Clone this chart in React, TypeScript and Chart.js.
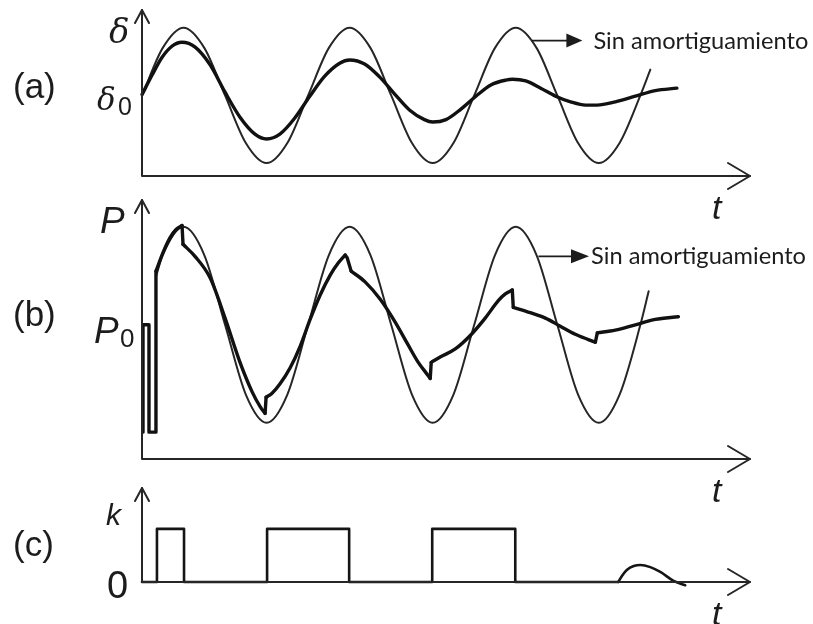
import React, { useEffect, useRef } from "react";
import { Chart, registerables } from "chart.js";

Chart.register(...registerables);

const W = 813;
const T_MAX = 3.66;
const NOTE = "Sin amortiguamiento";

// ---- Panel (a): rotor angle delta ----
const thinA_t = [0, 0.125, 0.25, 0.375, 0.5, 0.625, 0.75, 0.875, 1, 1.125, 1.25, 1.375, 1.5, 1.625, 1.75, 1.875, 2, 2.125, 2.25, 2.375, 2.5, 2.625, 2.75, 2.875, 3, 3.06];
const thinA_v = [1, 1.59, 1.84, 1.59, 1, 0.41, 0.16, 0.41, 1, 1.59, 1.84, 1.59, 1, 0.41, 0.16, 0.41, 1, 1.59, 1.84, 1.59, 1, 0.41, 0.16, 0.41, 1, 1.32];
const thickA_t = [0, 0.06, 0.12, 0.18, 0.24, 0.32, 0.41, 0.5, 0.59, 0.68, 0.75, 0.83, 0.92, 1.01, 1.1, 1.19, 1.25, 1.34, 1.43, 1.52, 1.61, 1.7, 1.75, 1.83, 1.92, 2.01, 2.1, 2.19, 2.23, 2.31, 2.4, 2.49, 2.58, 2.67, 2.74, 2.85, 2.97, 3.09, 3.22];
const thickA_v = [1.01, 1.25, 1.47, 1.61, 1.66, 1.6, 1.38, 1.04, 0.73, 0.52, 0.46, 0.52, 0.72, 0.99, 1.24, 1.4, 1.44, 1.39, 1.23, 1.02, 0.82, 0.7, 0.67, 0.7, 0.83, 0.99, 1.13, 1.19, 1.2, 1.18, 1.09, 0.99, 0.92, 0.88, 0.88, 0.92, 0.99, 1.06, 1.09];

// ---- Panel (b): electrical power P ----
const thinB_t = [0.084, 0.125, 0.25, 0.375, 0.5, 0.625, 0.75, 0.875, 1, 1.125, 1.25, 1.375, 1.5, 1.625, 1.75, 1.875, 2, 2.125, 2.25, 2.375, 2.5, 2.625, 2.75, 2.875, 3, 3.05];
const thinB_v = [1.36, 1.52, 1.73, 1.52, 1, 0.48, 0.27, 0.48, 1, 1.52, 1.73, 1.52, 1, 0.48, 0.27, 0.48, 1, 1.52, 1.73, 1.52, 1, 0.48, 0.27, 0.48, 1, 1.25];
const faultB_t = [0.006, 0.006, 0.042, 0.042, 0.084, 0.084];
const faultB_v = [0.2, 1.0, 1.0, 0.2, 0.2, 1.4];
const thickB_t = [0.084, 0.127, 0.169, 0.205, 0.241, 0.247, 0.319, 0.41, 0.5, 0.59, 0.663, 0.711, 0.741, 0.747, 0.783, 0.831, 0.892, 0.952, 1.012, 1.072, 1.133, 1.181, 1.223, 1.235, 1.259, 1.343, 1.434, 1.524, 1.602, 1.663, 1.711, 1.735, 1.741, 1.795, 1.886, 1.976, 2.066, 2.145, 2.187, 2.229, 2.235, 2.337, 2.428, 2.518, 2.608, 2.687, 2.729, 2.741, 2.849, 2.97, 3.09, 3.229];
const thickB_v = [1.4, 1.54, 1.65, 1.71, 1.74, 1.6, 1.51, 1.35, 1.05, 0.72, 0.5, 0.39, 0.34, 0.46, 0.49, 0.56, 0.68, 0.84, 1.04, 1.22, 1.37, 1.46, 1.52, 1.5, 1.4, 1.32, 1.19, 1.02, 0.85, 0.72, 0.64, 0.6, 0.72, 0.76, 0.82, 0.92, 1.05, 1.18, 1.23, 1.26, 1.13, 1.09, 1.05, 0.99, 0.93, 0.89, 0.87, 0.94, 0.96, 1.0, 1.04, 1.06];
// smooth runs of the damped curve [first index, last index]; the gaps between them are switching steps
const thickB_runs = [[0, 4], [5, 12], [13, 22], [24, 31], [32, 39], [40, 46], [47, 51]];

// ---- Panel (c): switching signal k ----
const stepC_t = [0, 0.09, 0.09, 0.253, 0.253, 0.753, 0.753, 1.247, 1.247, 1.747, 1.747, 2.247, 2.247, 2.867];
const stepC_v = [0, 0, 1, 1, 0, 0, 1, 1, 0, 0, 1, 1, 0, 0];
const humpC_t = [2.867, 2.89, 2.92, 2.96, 3.0, 3.06, 3.12, 3.2, 3.27];
const humpC_v = [0, 0.12, 0.23, 0.3, 0.32, 0.28, 0.19, 0.02, -0.06];

// annotation anchors (data coordinates on the undamped curve)
const annotA = { t: 2.35, v: 1.68 };
const annotB = { t: 2.39, v: 1.51 };

const INK = "#1c1c1c";

type Pt = { x: number; y: number };
const zip = (t: number[], v: number[]): Pt[] => t.map((x, i) => ({ x, y: v[i] }));

interface Series { t: number[]; v: number[]; width: number; color: string; smooth: boolean; order: number }
type Px = (v: number) => number;
interface PanelSpec {
  top: number; height: number; padTop: number; padBottom: number; yMax: number;
  series: Series[];
  draw: (ctx: CanvasRenderingContext2D, px: Px, py: Px, x0: number, y0: number, y1: number) => void;
}

function txt(ctx: CanvasRenderingContext2D, s: string, x: number, y: number, font: string) {
  ctx.font = font;
  ctx.fillStyle = INK;
  ctx.textBaseline = "alphabetic";
  ctx.textAlign = "left";
  ctx.fillText(s, x, y);
}

function note(ctx: CanvasRenderingContext2D, x: number, y: number, len: number, head: number, gap: number) {
  ctx.strokeStyle = INK;
  ctx.lineWidth = 1.6;
  ctx.beginPath();
  ctx.moveTo(x, y);
  ctx.lineTo(x + len - head + 1, y);
  ctx.stroke();
  ctx.fillStyle = INK;
  ctx.beginPath();
  ctx.moveTo(x + len, y);
  ctx.lineTo(x + len - head, y - 7);
  ctx.lineTo(x + len - head, y + 7);
  ctx.closePath();
  ctx.fill();
  ctx.font = "22px Lato";
  const w = ctx.measureText(NOTE).width;
  const size = (22 * 215) / w;
  txt(ctx, NOTE, x + len + gap, y + 8, `${size.toFixed(2)}px Lato`);
}

const thin = (t: number[], v: number[]): Series => ({ t, v, width: 2, color: "#262626", smooth: true, order: 2 });
const thick = (t: number[], v: number[], smooth: boolean): Series => ({ t, v, width: 3.4, color: "#111111", smooth, order: 1 });

function runSeries(t: number[], v: number[], runs: number[][]): Series[] {
  const out: Series[] = [];
  runs.forEach(([a, b], i) => {
    out.push(thick(t.slice(a, b + 1), v.slice(a, b + 1), true));
    if (i < runs.length - 1) {
      const n = runs[i + 1][0];
      out.push(thick(t.slice(b, n + 1), v.slice(b, n + 1), false));
    }
  });
  return out;
}

const panels: PanelSpec[] = [
  {
    top: 0, height: 230, padTop: 10, padBottom: 54, yMax: 2.06,
    series: [thick(thickA_t, thickA_v, true), thin(thinA_t, thinA_v)],
    draw: (ctx, px, py, x0, y0, y1) => {
      txt(ctx, "(a)", 13, py(1) + 3, '35px "Liberation Sans"');
      txt(ctx, "δ", x0 - 33, y1 + 33, 'italic 34px "DejaVu Serif"');
      txt(ctx, "δ", x0 - 45, py(1) + 15, 'italic 31px "DejaVu Serif"');
      txt(ctx, "0", x0 - 24, py(1) + 20, '25px "Liberation Sans"');
      note(ctx, px(annotA.t), py(annotA.v), 50, 16, 11);
    },
  },
  {
    top: 190, height: 330, padTop: 10, padBottom: 61, yMax: 1.93,
    series: [
      thick(faultB_t, faultB_v, false),
      ...runSeries(thickB_t, thickB_v, thickB_runs),
      thin(thinB_t, thinB_v),
    ],
    draw: (ctx, px, py, x0, y0, y1) => {
      txt(ctx, "(b)", 13, py(1) + 1, '35px "Liberation Sans"');
      txt(ctx, "P", x0 - 42, y1 + 33, 'italic 37px "Liberation Sans"');
      txt(ctx, "P", x0 - 48, py(1) + 18, 'italic 37px "Liberation Sans"');
      txt(ctx, "0", x0 - 22, py(1) + 22, '26px "Liberation Sans"');
      note(ctx, px(annotB.t), py(annotB.v), 50, 18, 2);
    },
  },
  {
    top: 470, height: 154, padTop: 18, padBottom: 42, yMax: 1.77,
    series: [
      { t: stepC_t, v: stepC_v, width: 2.6, color: "#151515", smooth: false, order: 1 },
      { t: humpC_t, v: humpC_v, width: 2.6, color: "#151515", smooth: true, order: 1 },
    ],
    draw: (ctx, px, py, x0, y0, y1) => {
      txt(ctx, "(c)", 13, y0 - 26, '35px "Liberation Sans"');
      txt(ctx, "k", x0 - 36, py(1) - 4, 'italic 30px "Liberation Sans"');
      txt(ctx, "0", x0 - 35, y0 + 16, '38px "Liberation Sans"');
    },
  },
];

function makePlugin(spec: PanelSpec) {
  return {
    id: "axesArrows",
    afterDatasetsDraw(chart: any) {
      const ctx: CanvasRenderingContext2D = chart.ctx;
      const xs = chart.scales.x;
      const ys = chart.scales.y;
      const px: Px = (v) => xs.getPixelForValue(v);
      const py: Px = (v) => ys.getPixelForValue(v);
      const x0 = px(0), x1 = px(T_MAX);
      const y0 = py(0), y1 = py(spec.yMax);
      ctx.save();
      ctx.strokeStyle = "#262626";
      ctx.lineWidth = 2;
      ctx.lineCap = "round";
      ctx.lineJoin = "round";
      ctx.beginPath();
      ctx.moveTo(x0, y0);
      ctx.lineTo(x1, y0);
      ctx.moveTo(x0, y0);
      ctx.lineTo(x0, y1);
      ctx.stroke();
      ctx.beginPath();
      ctx.moveTo(x1 - 22, y0 - 13);
      ctx.lineTo(x1, y0);
      ctx.lineTo(x1 - 22, y0 + 13);
      ctx.stroke();
      ctx.beginPath();
      ctx.moveTo(x0 - 7, y1 + 13);
      ctx.lineTo(x0, y1);
      ctx.lineTo(x0 + 7, y1 + 13);
      ctx.stroke();
      txt(ctx, "t", x1 - 38, y0 + 43, 'italic 34px "Liberation Sans"');
      spec.draw(ctx, px, py, x0, y0, y1);
      ctx.restore();
    },
  };
}

function Panel({ spec }: { spec: PanelSpec }) {
  const ref = useRef<HTMLCanvasElement>(null);
  useEffect(() => {
    const canvas = ref.current!;
    const chart = new Chart(canvas, {
      type: "line",
      data: {
        datasets: spec.series.map((s) => ({
          data: zip(s.t, s.v),
          borderColor: s.color,
          borderWidth: s.width,
          pointRadius: 0,
          fill: false,
          tension: 0,
          cubicInterpolationMode: s.smooth ? "monotone" : "default",
          clip: false,
          order: s.order,
          borderCapStyle: "round",
          borderJoinStyle: "round",
        })) as any,
      },
      options: {
        responsive: false,
        animation: false,
        events: [],
        layout: { padding: { left: 142, right: W - 750, top: spec.padTop, bottom: spec.padBottom } },
        scales: {
          x: { type: "linear", min: 0, max: T_MAX, display: false },
          y: { type: "linear", min: 0, max: spec.yMax, display: false },
        },
        plugins: { legend: { display: false }, tooltip: { enabled: false } },
      },
      plugins: [makePlugin(spec)],
    });
    return () => chart.destroy();
  }, [spec]);
  return (
    <canvas
      ref={ref}
      width={W}
      height={spec.height}
      style={{ position: "absolute", left: 0, top: spec.top, width: W, height: spec.height }}
    />
  );
}

export default function App() {
  return (
    <div style={{ position: "absolute", left: 0, top: 0, width: W, height: 624, background: "#fff", overflow: "hidden" }}>
      {panels.map((p, i) => (
        <Panel key={i} spec={p} />
      ))}
    </div>
  );
}
